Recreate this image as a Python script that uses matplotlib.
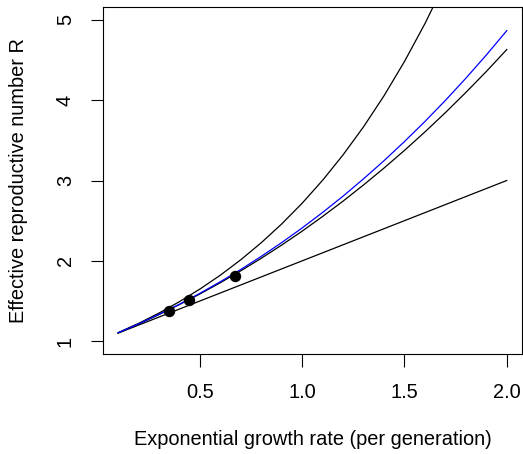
import matplotlib
matplotlib.use("Agg")
import matplotlib.pyplot as plt

plt.rcParams['font.family'] = ['Liberation Sans', 'DejaVu Sans']

r_grid = [0.1, 0.2, 0.3, 0.4, 0.5, 0.6, 0.7, 0.8, 0.9, 1.0,
          1.1, 1.2, 1.3, 1.4, 1.5, 1.6, 1.7, 1.8, 1.9, 2.0]

linear_r = [0.1, 2.0]
linear_R = [1.1, 3.0]

exp_r = [0.1, 0.2, 0.3, 0.4, 0.5, 0.6, 0.7, 0.8, 0.9, 1.0,
         1.1, 1.2, 1.3, 1.4, 1.5, 1.6, 1.7]
exp_R = [1.105, 1.221, 1.350, 1.492, 1.649, 1.822, 2.014, 2.226, 2.460, 2.718,
         3.004, 3.320, 3.669, 4.055, 4.482, 4.953, 5.474]

mid_R = [1.103, 1.214, 1.331, 1.456, 1.588, 1.728, 1.876, 2.032, 2.197, 2.370,
         2.553, 2.744, 2.945, 3.155, 3.375, 3.605, 3.845, 4.096, 4.357, 4.630]

blue_R = [1.104, 1.215, 1.334, 1.460, 1.596, 1.740, 1.893, 2.056, 2.228, 2.410,
          2.603, 2.806, 3.021, 3.247, 3.485, 3.735, 3.997, 4.273, 4.562, 4.865]

pts_r = [0.348, 0.446, 0.671]
pts_R = [1.381, 1.511, 1.814]

xticks = [0.5, 1.0, 1.5, 2.0]
xtick_labels = ["0.5", "1.0", "1.5", "2.0"]
yticks = [1, 2, 3, 4, 5]
ytick_labels = ["1", "2", "3", "4", "5"]

fig = plt.figure(figsize=(5.23, 4.54), dpi=100)
W, H = 523, 454
ax = fig.add_axes([102.6 / W, 1 - 354 / H, (522.3 - 102.6) / W, (354 - 7) / H])

lw = 0.9
ax.plot(linear_r, linear_R, color='black', lw=lw)
ax.plot(exp_r, exp_R, color='black', lw=lw)
ax.plot(r_grid, mid_R, color='black', lw=lw)
ax.plot(r_grid, blue_R, color='blue', lw=lw)
ax.plot(pts_r, pts_R, 'o', color='black', markersize=7.2, linestyle='none')

ax.set_xlim(0.024, 2.076)
ax.set_ylim(0.84, 5.16)

ax.set_xticks(xticks)
ax.set_xticklabels(xtick_labels)
ax.set_yticks(yticks)
ax.set_yticklabels(ytick_labels, rotation=90, va='center')

fs = 14.4
ax.tick_params(axis='both', direction='out', length=9, width=0.8,
               labelsize=fs, colors='black')
ax.tick_params(axis='x', pad=12)
ax.tick_params(axis='y', pad=11)

for s in ax.spines.values():
    s.set_linewidth(0.8)

ax.set_xlabel("Exponential growth rate (per generation)", fontsize=fs, labelpad=20)
ax.set_ylabel("Effective reproductive number R", fontsize=fs, labelpad=20)

fig.savefig("out.png", dpi=100)
